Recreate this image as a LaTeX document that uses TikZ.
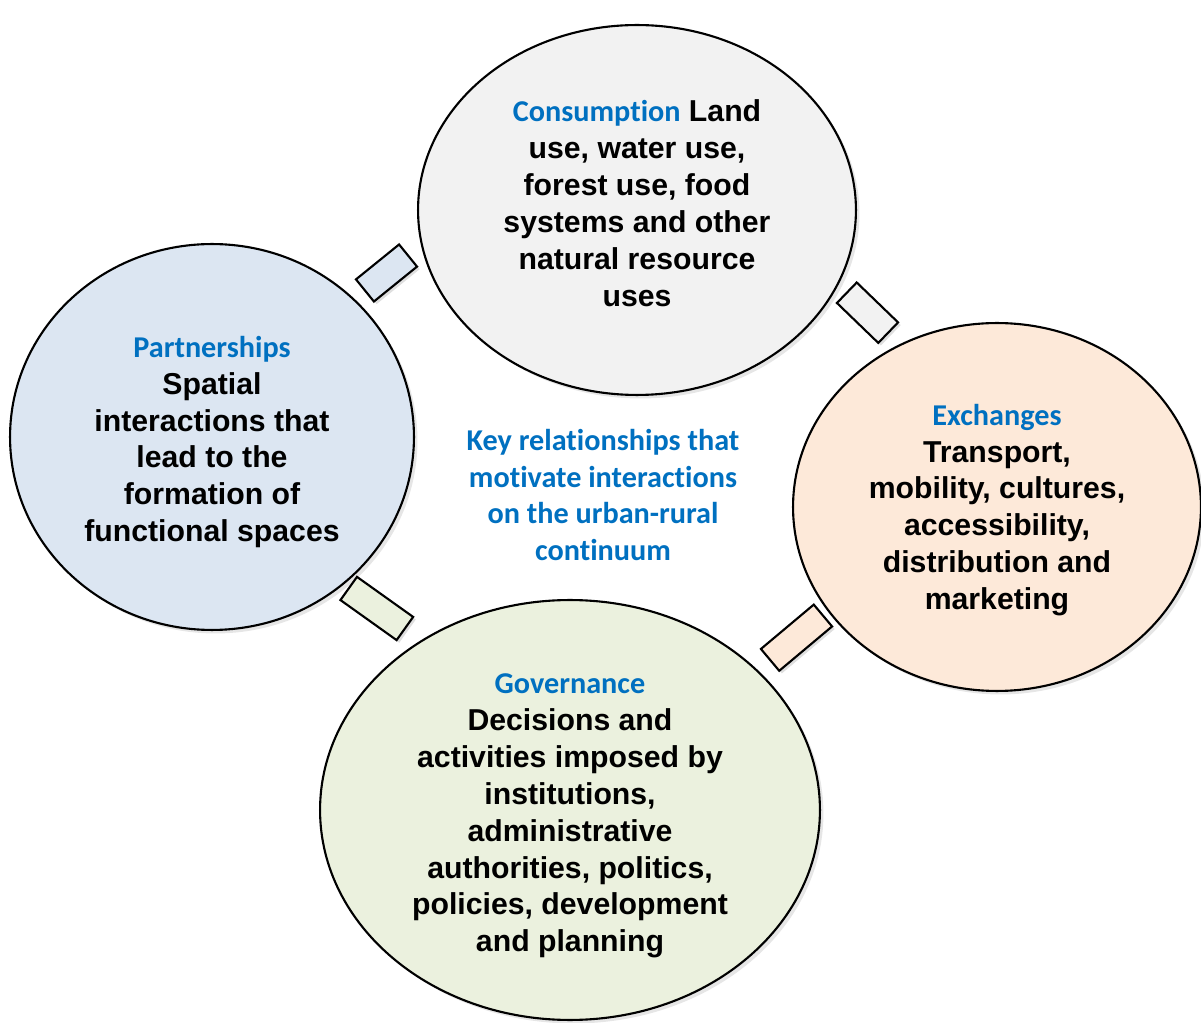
\documentclass[tikz,border=0pt]{standalone}
\usepackage{fontspec}
\setmainfont{Liberation Sans}
\newfontfamily\calibri[Ligatures=NoCommon]{Carlito}
\usetikzlibrary{shapes.geometric,shadows}

\definecolor{keyblue}{HTML}{0070C0}
\definecolor{consfill}{HTML}{F2F2F2}
\definecolor{partfill}{HTML}{DCE6F2}
\definecolor{exchfill}{HTML}{FDE9D9}
\definecolor{govfill}{HTML}{EBF1DE}

\newcommand{\keyword}[1]{{\calibri\color{keyblue}#1}}

\begin{document}
\begin{tikzpicture}[x=0.02cm, y=-0.02cm,
    line width=1.2pt,
    theme/.style={ellipse, draw, inner sep=0pt,
      drop shadow={opacity=0.2, shadow xshift=2pt, shadow yshift=-2pt}},
    words/.style={align=center, font=\fontsize{17.2}{21}\selectfont\bfseries},
    link/.style={rectangle, draw, inner sep=0pt, minimum height=0.57cm,
      drop shadow={opacity=0.25, shadow xshift=1.5pt, shadow yshift=-1.5pt}}
    ]
\useasboundingbox (0,0) rectangle (1201,1023);

% the four themes
\node[theme, fill=consfill, minimum width=8.76cm, minimum height=7.4cm] (C) at (637,210) {};
\node[theme, fill=partfill, minimum width=8.08cm, minimum height=7.72cm] (P) at (212,437) {};
\node[theme, fill=exchfill, minimum width=8.16cm, minimum height=7.36cm] (X) at (997,507) {};
\node[theme, fill=govfill, minimum width=10cm, minimum height=8.4cm] (G) at (570,810) {};

\node[words] (Ct) at (637,203)
  {\keyword{Consumption} Land\\use, water use,\\forest use, food\\systems and other\\natural resource\\uses};
\node[words] (Pt) at (212,442)
  {\keyword{Partnerships}\\Spatial\\interactions that\\lead to the\\formation of\\functional spaces};
\node[words] (Xt) at (997,510)
  {\keyword{Exchanges}\\Transport,\\mobility, cultures,\\accessibility,\\distribution and\\marketing};
\node[words] (Gt) at (570,816)
  {\keyword{Governance}\\Decisions and\\activities imposed by\\institutions,\\administrative\\authorities, politics,\\policies, development\\and planning};

\node[words, font=\fontsize{17.2}{21}\selectfont\bfseries\calibri, text=keyblue] (K) at (603,495)
  {Key relationships that\\motivate interactions\\on the urban-rural\\continuum};

% links between themes
\node[link, fill=partfill, minimum width=1.11cm, rotate=39] (PC) at (386.5,273) {};
\node[link, fill=consfill, minimum width=1.15cm, rotate=-44] (CX) at (867.5,312.7) {};
\node[link, fill=govfill, minimum width=1.38cm, rotate=-35.5] (PG) at (376.8,608.5) {};
\node[link, fill=exchfill, minimum width=1.38cm, rotate=40] (GX) at (796.5,637.7) {};
\end{tikzpicture}
\end{document}
